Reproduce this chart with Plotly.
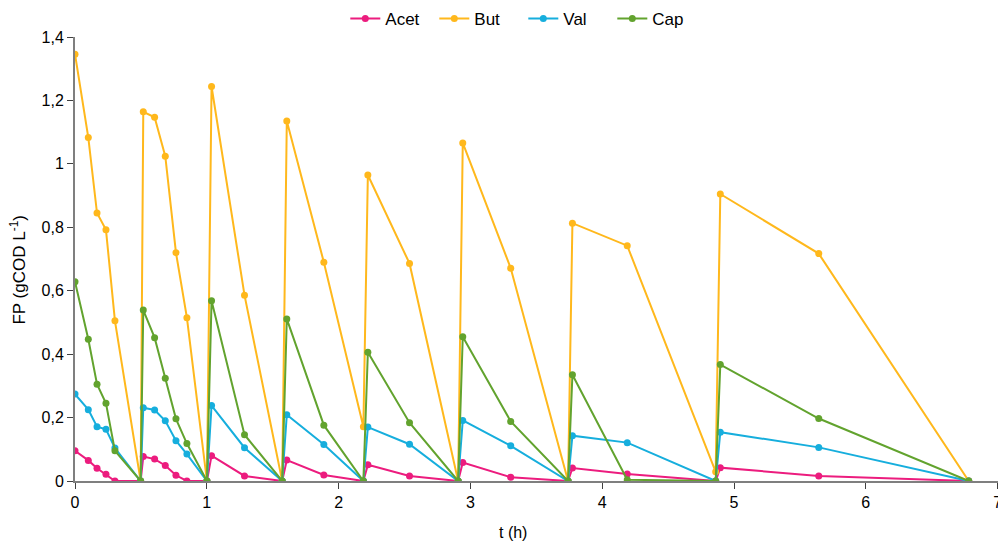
import plotly.graph_objects as go

# time (h)
t = [0, 0.101, 0.167, 0.235, 0.303, 0.498,
     0.518, 0.604, 0.685, 0.766, 0.849, 1.001,
     1.036, 1.286, 1.572,
     1.607, 1.888, 2.188,
     2.222, 2.538, 2.907,
     2.942, 3.306, 3.741,
     3.774, 4.19, 4.861,
     4.896, 5.643, 6.781]

acet = [0.095, 0.065, 0.040, 0.021, 0, 0,
        0.077, 0.069, 0.049, 0.018, 0, 0,
        0.080, 0.016, 0,
        0.066, 0.019, 0,
        0.051, 0.016, 0,
        0.058, 0.012, 0,
        0.041, 0.022, 0,
        0.042, 0.016, 0]

but = [1.346, 1.083, 0.845, 0.792, 0.505, 0,
       1.164, 1.147, 1.024, 0.720, 0.515, 0,
       1.244, 0.586, 0,
       1.135, 0.690, 0.171,
       0.965, 0.686, 0,
       1.066, 0.671, 0,
       0.813, 0.742, 0.029,
       0.905, 0.717, 0]

val = [0.274, 0.225, 0.171, 0.163, 0.104, 0,
       0.231, 0.224, 0.190, 0.127, 0.085, 0,
       0.238, 0.105, 0,
       0.209, 0.115, 0,
       0.170, 0.116, 0,
       0.191, 0.111, 0,
       0.143, 0.121, 0,
       0.154, 0.106, 0]

cap = [0.628, 0.447, 0.305, 0.245, 0.095, 0,
       0.539, 0.452, 0.324, 0.196, 0.118, 0,
       0.568, 0.146, 0,
       0.511, 0.176, 0,
       0.406, 0.184, 0,
       0.455, 0.188, 0,
       0.335, 0.004, 0,
       0.367, 0.197, 0]

names = ["Acet", "But", "Val", "Cap"]
colors = ["#EC1C7E", "#FFB81C", "#16AEDD", "#62A32E"]
series = [acet, but, val, cap]

fig = go.Figure()
for n, c, s in zip(names, colors, series):
    fig.add_trace(go.Scatter(
        x=t, y=s, name=n, mode="lines+markers",
        line=dict(color=c, width=2),
        marker=dict(color=c, size=7),
    ))

font = "Liberation Sans, Arial, sans-serif"
fig.update_layout(
    width=998, height=543,
    margin=dict(l=75, r=0, t=37, b=62),
    paper_bgcolor="white", plot_bgcolor="white",
    separators=",.",
    font=dict(family=font, size=16, color="#000000"),
    legend=dict(orientation="h", x=0.4857, xanchor="center", y=1.0, yanchor="bottom",
                font=dict(size=17), itemwidth=30, traceorder="normal",
                entrywidth=44, entrywidthmode="pixels"),
    xaxis=dict(range=[0, 7.003], dtick=1, tick0=0, showgrid=False, zeroline=False,
               showline=True, linecolor="#7f7f7f", linewidth=1.5,
               ticks="outside", ticklen=6, tickcolor="#404040",
               ticklabeloverflow="allow", automargin=False,
               tickfont=dict(size=16)),
    yaxis=dict(range=[0, 1.4], dtick=0.2, tick0=0, showgrid=False, zeroline=False,
               showline=True, linecolor="#7f7f7f", linewidth=2,
               ticks="outside", ticklen=6, tickcolor="#404040",
               automargin=False,
               tickfont=dict(size=16)),
    annotations=[
        dict(text="t (h)", xref="paper", yref="paper", x=0.475, y=-0.117,
             xanchor="center", yanchor="middle", showarrow=False,
             font=dict(size=16)),
        dict(text="FP (gCOD L<sup>-1</sup>)", xref="paper", yref="paper",
             x=-0.0613, y=0.475, xanchor="center", yanchor="middle",
             textangle=-90, showarrow=False, font=dict(size=17)),
    ],
)

fig.write_html("out.html")
